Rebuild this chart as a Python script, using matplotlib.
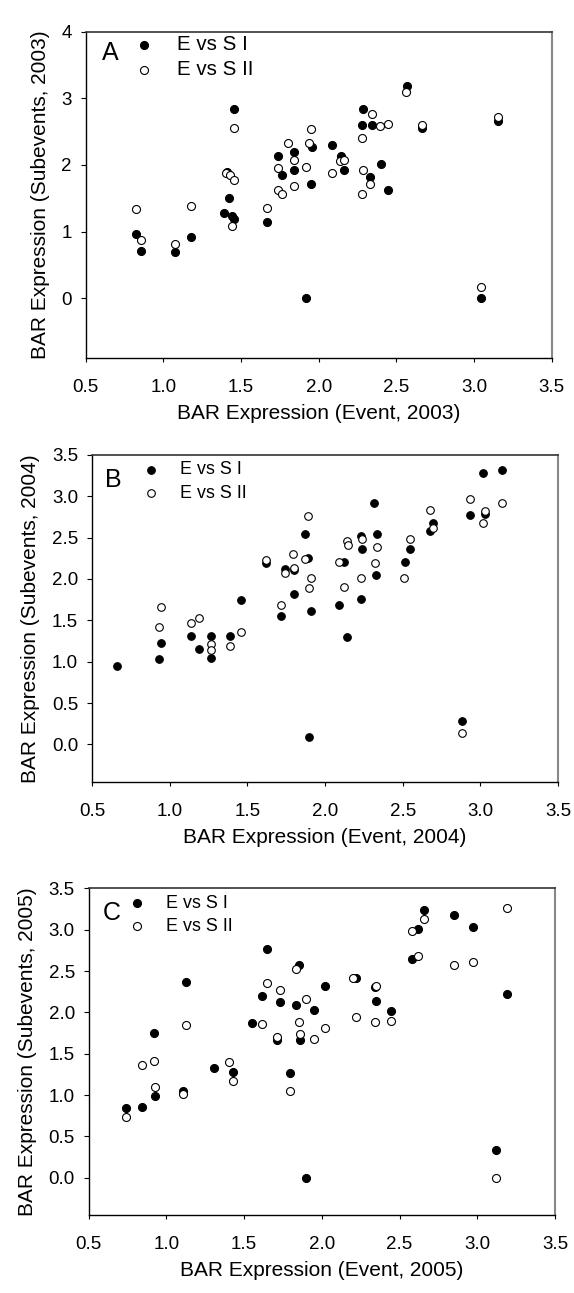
import matplotlib
matplotlib.use('Agg')
import matplotlib.pyplot as plt

plt.rcParams['font.family'] = ['Liberation Sans', 'DejaVu Sans']

# Panel A (2003)
x_s1_2003 = [0.825, 0.858, 1.073, 1.177, 1.39, 1.41, 1.425, 1.444, 1.455, 1.455, 1.666, 1.737, 1.767,
             1.843, 1.843, 1.92, 1.95, 1.955, 2.086, 2.144, 2.161, 2.279, 2.285, 2.333, 2.345, 2.399,
             2.444, 2.569, 2.667, 3.047, 3.155]
y_s1_2003 = [0.96, 0.715, 0.70, 0.925, 1.275, 1.90, 1.50, 1.235, 1.185, 2.835, 1.15, 2.135, 1.845,
             2.19, 1.92, 0.0, 1.71, 2.275, 2.30, 2.14, 1.93, 2.60, 2.835, 1.815, 2.60, 2.015,
             1.63, 3.185, 2.555, 0.0, 2.66]
x_s2_2003 = [0.825, 0.858, 1.073, 1.177, 1.405, 1.427, 1.442, 1.453, 1.453, 1.666, 1.737, 1.737, 1.767,
             1.80, 1.843, 1.843, 1.92, 1.94, 1.95, 2.088, 2.135, 2.163, 2.279, 2.281, 2.288, 2.33,
             2.345, 2.397, 2.444, 2.564, 2.667, 3.047, 3.155]
y_s2_2003 = [1.335, 0.875, 0.82, 1.385, 1.885, 1.845, 1.09, 1.775, 2.56, 1.35, 1.955, 1.62, 1.56,
             2.335, 2.075, 1.69, 1.975, 2.335, 2.535, 1.875, 2.055, 2.07, 2.40, 1.565, 1.92, 1.715,
             2.77, 2.59, 2.62, 3.09, 2.60, 0.165, 2.725]

# Panel B (2004)
x_s1_2004 = [0.659, 0.931, 0.942, 1.139, 1.189, 1.266, 1.266, 1.386, 1.459, 1.618, 1.719, 1.745, 1.803,
             1.803, 1.871, 1.888, 1.899, 1.91, 2.09, 2.122, 2.139, 2.23, 2.234, 2.238, 2.318, 2.326,
             2.337, 2.513, 2.549, 2.676, 2.695, 2.882, 2.931, 3.019, 3.03, 3.139]
y_s1_2004 = [0.954, 1.03, 1.228, 1.316, 1.151, 1.316, 1.043, 1.316, 1.747, 2.198, 1.55, 2.114, 1.812,
             2.11, 2.548, 2.254, 0.089, 1.61, 1.679, 2.202, 1.304, 2.516, 1.755, 2.359, 2.923, 2.049,
             2.544, 2.202, 2.367, 2.577, 2.677, 0.278, 2.778, 3.277, 2.786, 3.317]
x_s2_2004 = [0.931, 0.942, 1.139, 1.189, 1.266, 1.266, 1.386, 1.459, 1.618, 1.719, 1.745, 1.796, 1.803,
             1.871, 1.888, 1.899, 1.91, 2.09, 2.122, 2.144, 2.148, 2.232, 2.238, 2.322, 2.337, 2.511,
             2.549, 2.678, 2.695, 2.882, 2.931, 3.019, 3.03, 3.139]
y_s2_2004 = [1.417, 1.655, 1.473, 1.53, 1.216, 1.143, 1.184, 1.353, 2.23, 1.679, 2.069, 2.299, 2.138,
             2.246, 2.758, 1.888, 2.013, 2.21, 1.90, 2.464, 2.407, 2.009, 2.488, 2.198, 2.387, 2.013,
             2.488, 2.83, 2.613, 0.137, 2.967, 2.677, 2.826, 2.915]

# Panel C (2005)
x_s1_2005 = [0.739, 0.846, 0.917, 0.928, 1.106, 1.126, 1.306, 1.427, 1.549, 1.618, 1.648, 1.709, 1.73,
             1.797, 1.835, 1.855, 1.859, 1.898, 1.952, 2.019, 2.221, 2.343, 2.349, 2.448, 2.58, 2.617,
             2.657, 2.852, 2.97, 3.118, 3.188]
y_s1_2005 = [0.838, 0.862, 1.756, 0.987, 1.055, 2.364, 1.333, 1.277, 1.873, 2.203, 2.767, 1.667, 2.126,
             1.269, 2.086, 2.573, 1.667, 0.0, 2.034, 2.324, 2.416, 2.304, 2.134, 2.018, 2.646, 3.004,
             3.234, 3.182, 3.037, 0.342, 2.219]
x_s2_2005 = [0.739, 0.846, 0.917, 0.928, 1.106, 1.126, 1.403, 1.427, 1.618, 1.648, 1.709, 1.73, 1.797,
             1.831, 1.85, 1.859, 1.898, 1.952, 2.019, 2.199, 2.221, 2.343, 2.347, 2.448, 2.578, 2.617,
             2.657, 2.852, 2.97, 3.118, 3.188]
y_s2_2005 = [0.741, 1.361, 1.414, 1.099, 1.015, 1.849, 1.398, 1.172, 1.861, 2.36, 1.708, 2.275, 1.047,
             2.521, 1.889, 1.744, 2.159, 1.675, 1.808, 2.416, 1.949, 1.889, 2.324, 1.901, 2.98, 2.686,
             3.125, 2.573, 2.61, 0.0, 3.258]

x_ticks = [0.5, 1.0, 1.5, 2.0, 2.5, 3.0, 3.5]


def draw_panel(ax, xs1, ys1, xs2, ys2, letter, year, ylim, yticks, yfmt, leg_font, leg_anchor, msize, leg_space):
    ax.scatter(xs1, ys1, s=msize, facecolor='black', edgecolor='black', linewidths=0.8,
               label='E vs S I', zorder=3)
    ax.scatter(xs2, ys2, s=msize, facecolor='white', edgecolor='black', linewidths=0.8,
               label='E vs S II', zorder=4)

    ax.set_xlim(0.5, 3.5)
    ax.set_ylim(*ylim)
    ax.set_xticks(x_ticks)
    ax.set_xticklabels([f'{t:.1f}' for t in x_ticks])
    ax.set_yticks(yticks)
    ax.set_yticklabels([yfmt.format(t) for t in yticks])
    ax.tick_params(axis='x', direction='out', length=3, width=0.8, labelsize=13.5, pad=12)
    ax.tick_params(axis='y', direction='out', length=3.5, width=0.8, labelsize=13.5, pad=6.5)

    for side in ['left', 'bottom']:
        ax.spines[side].set_color('black')
        ax.spines[side].set_linewidth(1.0)
    ax.spines['top'].set_color('#333333')
    ax.spines['top'].set_linewidth(1.2)
    ax.spines['right'].set_color('#888888')
    ax.spines['right'].set_linewidth(1.5)

    ax.set_xlabel(f'BAR Expression (Event, {year})', fontsize=15, labelpad=6)
    ax.set_ylabel(f'BAR Expression (Subevents, {year})', fontsize=15, labelpad=8.5)

    ax.text(letter[1], letter[2], letter[0], transform=ax.transAxes, fontsize=18,
            ha='left', va='baseline')

    ax.legend(loc='upper left', bbox_to_anchor=leg_anchor, frameon=False, fontsize=leg_font,
              handlelength=1.0, handletextpad=1.15, labelspacing=leg_space, borderpad=0,
              borderaxespad=0, scatterpoints=1)


fig = plt.figure(figsize=(5.74, 12.93), dpi=100)

ax_a = fig.add_axes([0.1493, 0.7229, 0.8118, 0.2526])
draw_panel(ax_a, x_s1_2003, y_s1_2003, x_s2_2003, y_s2_2003, ('A', 0.034, 0.913), 2003,
           (-0.9, 4.0), [0, 1, 2, 3, 4], '{:.0f}', 14.8, (0.102, 0.99), 33, 0.3)

ax_b = fig.add_axes([0.1603, 0.3954, 0.8118, 0.2529])
draw_panel(ax_b, x_s1_2004, y_s1_2004, x_s2_2004, y_s2_2004, ('B', 0.028, 0.902), 2004,
           (-0.45, 3.5), [0, 0.5, 1.0, 1.5, 2.0, 2.5, 3.0, 3.5], '{:.1f}', 12.9, (0.107, 0.98), 30, 0.35)

ax_c = fig.add_axes([0.1545, 0.0603, 0.8124, 0.2527])
draw_panel(ax_c, x_s1_2005, y_s1_2005, x_s2_2005, y_s2_2005, ('C', 0.031, 0.903), 2005,
           (-0.45, 3.5), [0, 0.5, 1.0, 1.5, 2.0, 2.5, 3.0, 3.5], '{:.1f}', 12.9, (0.084, 0.98), 33, 0.35)

fig.savefig('out.png', dpi=100)
